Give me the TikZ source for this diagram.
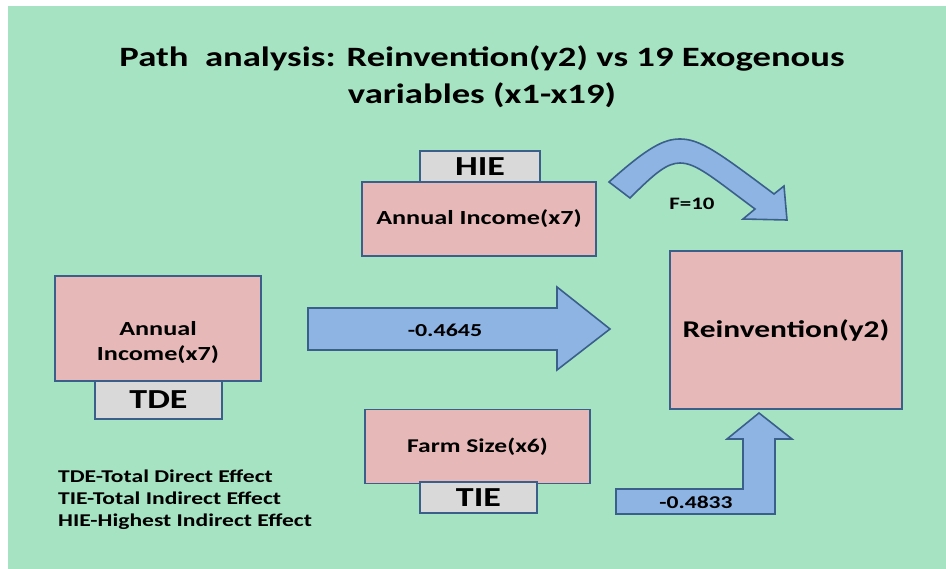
\documentclass[tikz,border=0pt]{standalone}
\usepackage{fontspec}
\setmainfont{Carlito}[FakeStretch=1.31]
\usetikzlibrary{calc}

\definecolor{bggreen}{HTML}{A6E3C3}
\definecolor{boxpink}{HTML}{E6B9B8}
\definecolor{boxgray}{HTML}{D9D9D9}
\definecolor{arrowblue}{HTML}{8EB4E3}
\definecolor{edgeblue}{HTML}{3A5F8B}

\newcommand{\fsz}[1]{\fontsize{#1}{#1}\selectfont}

\tikzset{
  varbox/.style={draw=edgeblue, line width=1.6pt, fill=boxpink, align=center,
    inner sep=0pt, font=\bfseries},
  tagbox/.style={draw=edgeblue, line width=1.6pt, fill=boxgray, inner sep=0pt,
    font=\bfseries\fsz{27.5}},
  blockarrow/.style={draw=edgeblue, line width=1.6pt, fill=arrowblue, line join=miter},
  lbl/.style={inner sep=0pt, font=\bfseries}
}

\begin{document}
\begin{tikzpicture}[x=1pt,y=-1pt]
% canvas
\useasboundingbox (0,0) rectangle (946,569);
\fill[white] (0,0) rectangle (946,569);
\fill[bggreen] (8,6) rectangle (946,569);

% title
\node[lbl, align=center, font=\bfseries\fontsize{28}{37}\selectfont] (title) at (482,77)
  {Path\ \ analysis: Reinvention(y2) vs 19 Exogenous\\variables (x1-x19)};

% boxes
\node[tagbox, minimum width=120, minimum height=32] (hie) at (480,167) {HIE};
\node[varbox, minimum width=234, minimum height=74, font=\bfseries\fsz{20}] (topx7) at (479,219) {Annual Income(x7)};

\node[varbox, minimum width=206, minimum height=105] (leftx7) at (158,328.5) {};
\node[lbl, align=center, font=\bfseries\fontsize{20}{25}\selectfont] (leftx7txt) at (158,342) {Annual\\Income(x7)};
\node[tagbox, minimum width=127, minimum height=38] (tde) at (158.5,400) {TDE};

\node[varbox, minimum width=232, minimum height=158, font=\bfseries\fsz{24}] (y2) at (786,330) {Reinvention(y2)};

\node[varbox, minimum width=225, minimum height=74, font=\bfseries\fsz{19.5}] (farm) at (477.5,446.5) {Farm Size(x6)};
\node[tagbox, minimum width=117, minimum height=31] (tie) at (478.5,497.5) {TIE};

% direct effect arrow
\draw[blockarrow] (308,308) -- (557,308) -- (557,287) -- (610,329) -- (557,370) -- (557,350) -- (308,350) -- cycle;
\node[lbl, font=\bfseries\fsz{18.3}] (dte) at (445,330) {-0.4645};

% indirect effect arrow (bent)
\draw[blockarrow] (616,489) -- (743,489) -- (743,439) -- (727,439) -- (759,413)
  -- (792,439) -- (775,439) -- (775,514) -- (616,514) -- cycle;
\node[lbl, font=\bfseries\fsz{18}] (ite) at (696,502.5) {-0.4833};

% highest indirect effect arrow (curved)
\draw[blockarrow] (609,182) .. controls (648,147) and (664,139) .. (680,139)
  .. controls (700,139) and (718,152) .. (774,194) -- (784,186) -- (787,220) -- (743,219)
  -- (755,209) .. controls (712,177) and (696,163) .. (680,163)
  .. controls (667,163) and (655,173) .. (630,198) -- cycle;
\node[lbl, font=\bfseries\fsz{17.5}] (fval) at (692,203.5) {F=10};

% legend
\node[lbl, anchor=north west, align=left, font=\bfseries\fontsize{18}{22}\selectfont] (legend) at (58,470)
  {TDE-Total Direct Effect\\TIE-Total Indirect Effect\\HIE-Highest Indirect Effect};
\end{tikzpicture}
\end{document}
